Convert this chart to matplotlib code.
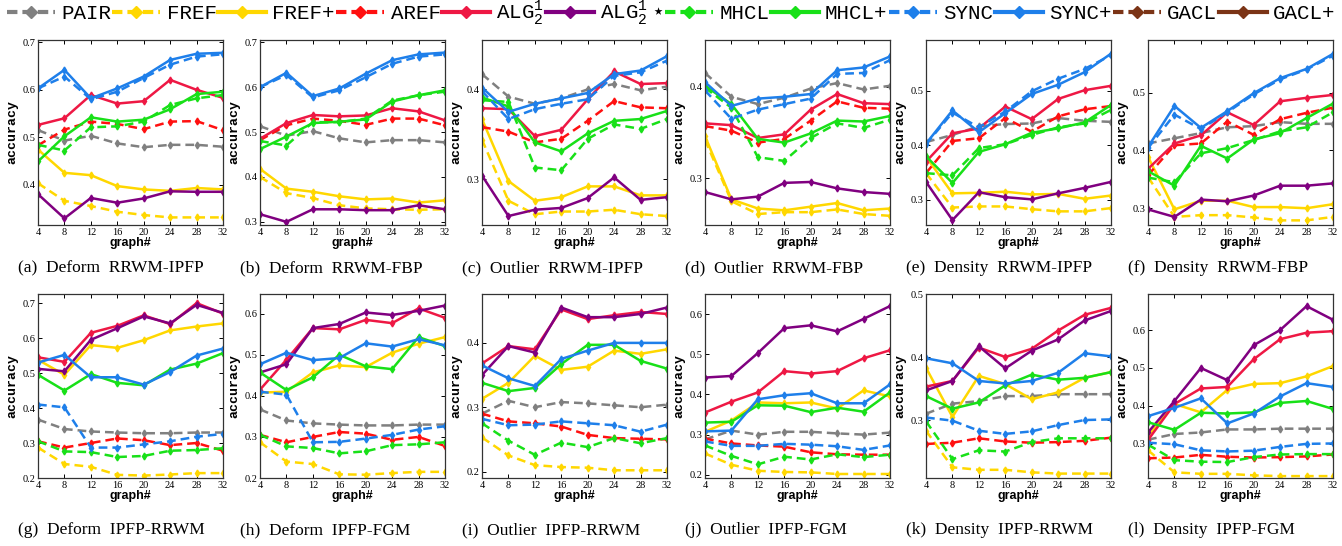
import matplotlib
matplotlib.use('Agg')
import matplotlib.pyplot as plt
from matplotlib.lines import Line2D
from matplotlib.ticker import FormatStrFormatter

x = [4, 8, 12, 16, 20, 24, 28, 32]

captions = ['(a)  Deform  RRWM-IPFP', '(b)  Deform  RRWM-FBP', '(c)  Outlier  RRWM-IPFP',
            '(d)  Outlier  RRWM-FBP', '(e)  Density  RRWM-IPFP', '(f)  Density  RRWM-FBP',
            '(g)  Deform  IPFP-RRWM', '(h)  Deform  IPFP-FGM', '(i)  Outlier  IPFP-RRWM',
            '(j)  Outlier  IPFP-FGM', '(k)  Density  IPFP-RRWM', '(l)  Density  IPFP-FGM']

ylims = [(0.315, 0.705), (0.293, 0.705), (0.249, 0.455), (0.249, 0.451), (0.254, 0.593), (0.271, 0.591),
         (0.2, 0.726), (0.2, 0.648), (0.19, 0.476), (0.192, 0.65), (0.208, 0.5), (0.21, 0.695)]
yticks = [[0.4, 0.5, 0.6, 0.7], [0.3, 0.4, 0.5, 0.6, 0.7], [0.3, 0.4], [0.3, 0.4], [0.3, 0.4, 0.5],
          [0.3, 0.4, 0.5], [0.2, 0.3, 0.4, 0.5, 0.6, 0.7], [0.2, 0.3, 0.4, 0.5, 0.6], [0.2, 0.3, 0.4],
          [0.2, 0.3, 0.4, 0.5, 0.6], [0.3, 0.4, 0.5], [0.3, 0.4, 0.5, 0.6]]

PAIR = [
    [0.515, 0.493, 0.503, 0.487, 0.479, 0.484, 0.484, 0.480],
    [0.513, 0.492, 0.502, 0.486, 0.477, 0.482, 0.482, 0.477],
    [0.417, 0.392, 0.384, 0.390, 0.400, 0.406, 0.399, 0.403],
    [0.415, 0.389, 0.381, 0.388, 0.398, 0.404, 0.397, 0.401],
    [0.406, 0.419, 0.435, 0.439, 0.440, 0.450, 0.445, 0.443],
    [0.412, 0.421, 0.430, 0.440, 0.442, 0.449, 0.446, 0.446],
    [0.367, 0.340, 0.333, 0.330, 0.328, 0.328, 0.330, 0.330],
    [0.367, 0.340, 0.333, 0.330, 0.328, 0.328, 0.330, 0.330],
    [0.290, 0.310, 0.300, 0.308, 0.306, 0.303, 0.300, 0.304],
    [0.288, 0.310, 0.300, 0.307, 0.307, 0.303, 0.300, 0.305],
    [0.310, 0.326, 0.330, 0.338, 0.338, 0.341, 0.341, 0.341],
    [0.311, 0.326, 0.330, 0.338, 0.338, 0.340, 0.340, 0.340],
]
FREF = [
    [0.403, 0.366, 0.355, 0.343, 0.336, 0.331, 0.331, 0.331],
    [0.400, 0.364, 0.353, 0.337, 0.330, 0.328, 0.327, 0.328],
    [0.344, 0.276, 0.261, 0.264, 0.264, 0.266, 0.261, 0.259],
    [0.342, 0.275, 0.261, 0.263, 0.263, 0.266, 0.261, 0.259],
    [0.349, 0.286, 0.288, 0.288, 0.283, 0.279, 0.279, 0.285],
    [0.354, 0.285, 0.288, 0.288, 0.284, 0.279, 0.279, 0.285],
    [0.287, 0.240, 0.232, 0.209, 0.207, 0.210, 0.214, 0.214],
    [0.287, 0.240, 0.234, 0.209, 0.208, 0.212, 0.215, 0.215],
    [0.253, 0.225, 0.210, 0.207, 0.206, 0.202, 0.202, 0.202],
    [0.253, 0.225, 0.210, 0.207, 0.206, 0.202, 0.202, 0.202],
    [0.283, 0.225, 0.221, 0.221, 0.217, 0.215, 0.215, 0.215],
    [0.283, 0.225, 0.221, 0.221, 0.217, 0.215, 0.215, 0.215],
]
FREF_plus = [
    [0.474, 0.425, 0.420, 0.397, 0.390, 0.387, 0.393, 0.390],
    [0.418, 0.374, 0.367, 0.357, 0.350, 0.352, 0.343, 0.348],
    [0.367, 0.298, 0.276, 0.280, 0.292, 0.292, 0.282, 0.282],
    [0.346, 0.277, 0.267, 0.265, 0.269, 0.273, 0.265, 0.267],
    [0.379, 0.312, 0.313, 0.315, 0.310, 0.311, 0.302, 0.308],
    [0.389, 0.298, 0.313, 0.313, 0.302, 0.302, 0.300, 0.307],
    [0.538, 0.495, 0.580, 0.572, 0.594, 0.622, 0.633, 0.642],
    [0.408, 0.410, 0.457, 0.474, 0.470, 0.505, 0.527, 0.543],
    [0.313, 0.338, 0.380, 0.358, 0.363, 0.388, 0.383, 0.390],
    [0.307, 0.335, 0.380, 0.378, 0.380, 0.365, 0.410, 0.395],
    [0.383, 0.305, 0.370, 0.357, 0.333, 0.344, 0.367, 0.376],
    [0.320, 0.405, 0.383, 0.442, 0.458, 0.460, 0.478, 0.505],
]
AREF = [
    [0.483, 0.516, 0.533, 0.528, 0.517, 0.533, 0.534, 0.515],
    [0.482, 0.515, 0.530, 0.525, 0.516, 0.530, 0.530, 0.515],
    [0.358, 0.353, 0.341, 0.345, 0.365, 0.387, 0.380, 0.379],
    [0.357, 0.352, 0.339, 0.343, 0.363, 0.384, 0.377, 0.376],
    [0.349, 0.408, 0.413, 0.450, 0.425, 0.453, 0.466, 0.472],
    [0.357, 0.409, 0.412, 0.450, 0.427, 0.454, 0.465, 0.474],
    [0.305, 0.287, 0.300, 0.313, 0.308, 0.294, 0.300, 0.278],
    [0.305, 0.287, 0.300, 0.312, 0.308, 0.293, 0.300, 0.278],
    [0.290, 0.278, 0.275, 0.270, 0.257, 0.252, 0.251, 0.250],
    [0.290, 0.278, 0.273, 0.270, 0.256, 0.251, 0.250, 0.250],
    [0.262, 0.264, 0.271, 0.266, 0.264, 0.265, 0.267, 0.272],
    [0.262, 0.264, 0.271, 0.266, 0.264, 0.265, 0.267, 0.272],
]
ALG = [
    [0.526, 0.540, 0.589, 0.571, 0.576, 0.621, 0.600, 0.583],
    [0.485, 0.520, 0.538, 0.535, 0.537, 0.553, 0.546, 0.526],
    [0.379, 0.378, 0.348, 0.355, 0.389, 0.420, 0.406, 0.407],
    [0.360, 0.358, 0.344, 0.348, 0.375, 0.392, 0.382, 0.381],
    [0.370, 0.422, 0.431, 0.471, 0.448, 0.485, 0.501, 0.509],
    [0.368, 0.412, 0.426, 0.466, 0.444, 0.485, 0.491, 0.496],
    [0.545, 0.532, 0.615, 0.635, 0.665, 0.640, 0.700, 0.670],
    [0.415, 0.488, 0.565, 0.562, 0.585, 0.577, 0.613, 0.590],
    [0.368, 0.395, 0.390, 0.452, 0.437, 0.443, 0.448, 0.445],
    [0.355, 0.382, 0.405, 0.458, 0.452, 0.458, 0.490, 0.510],
    [0.353, 0.362, 0.415, 0.400, 0.413, 0.442, 0.467, 0.478],
    [0.310, 0.405, 0.446, 0.450, 0.523, 0.576, 0.593, 0.597],
]
ALG_star = [
    [0.380, 0.329, 0.372, 0.362, 0.371, 0.386, 0.385, 0.385],
    [0.317, 0.300, 0.328, 0.328, 0.326, 0.326, 0.337, 0.328],
    [0.304, 0.259, 0.266, 0.268, 0.279, 0.302, 0.277, 0.280],
    [0.285, 0.277, 0.280, 0.295, 0.296, 0.289, 0.285, 0.283],
    [0.333, 0.263, 0.314, 0.305, 0.301, 0.312, 0.322, 0.333],
    [0.298, 0.285, 0.315, 0.312, 0.322, 0.339, 0.339, 0.343],
    [0.512, 0.505, 0.595, 0.628, 0.662, 0.642, 0.695, 0.672],
    [0.457, 0.477, 0.565, 0.575, 0.603, 0.597, 0.607, 0.620],
    [0.350, 0.395, 0.385, 0.455, 0.440, 0.440, 0.445, 0.455],
    [0.442, 0.446, 0.503, 0.565, 0.572, 0.557, 0.588, 0.620],
    [0.347, 0.362, 0.417, 0.382, 0.410, 0.428, 0.458, 0.473],
    [0.330, 0.413, 0.500, 0.468, 0.560, 0.600, 0.663, 0.627],
]
MHCL = [
    [0.484, 0.472, 0.521, 0.523, 0.533, 0.568, 0.582, 0.589],
    [0.480, 0.470, 0.522, 0.522, 0.530, 0.570, 0.582, 0.590],
    [0.388, 0.386, 0.313, 0.310, 0.345, 0.361, 0.356, 0.367],
    [0.399, 0.377, 0.323, 0.319, 0.344, 0.360, 0.355, 0.364],
    [0.349, 0.345, 0.395, 0.402, 0.419, 0.433, 0.440, 0.465],
    [0.353, 0.345, 0.395, 0.404, 0.418, 0.433, 0.440, 0.466],
    [0.305, 0.276, 0.274, 0.260, 0.263, 0.278, 0.280, 0.285],
    [0.305, 0.277, 0.273, 0.260, 0.265, 0.280, 0.282, 0.287],
    [0.275, 0.248, 0.226, 0.245, 0.238, 0.252, 0.244, 0.252],
    [0.273, 0.247, 0.226, 0.245, 0.238, 0.251, 0.244, 0.250],
    [0.298, 0.238, 0.252, 0.250, 0.265, 0.271, 0.271, 0.271],
    [0.298, 0.257, 0.253, 0.252, 0.265, 0.272, 0.273, 0.273],
]
MHCL_plus = [
    [0.449, 0.502, 0.542, 0.533, 0.537, 0.559, 0.591, 0.596],
    [0.462, 0.490, 0.520, 0.523, 0.528, 0.568, 0.582, 0.593],
    [0.391, 0.381, 0.341, 0.331, 0.351, 0.365, 0.367, 0.376],
    [0.401, 0.381, 0.343, 0.339, 0.349, 0.363, 0.362, 0.368],
    [0.380, 0.331, 0.388, 0.402, 0.423, 0.431, 0.442, 0.474],
    [0.364, 0.339, 0.408, 0.386, 0.419, 0.430, 0.456, 0.481],
    [0.495, 0.450, 0.497, 0.472, 0.465, 0.510, 0.527, 0.557],
    [0.457, 0.414, 0.445, 0.500, 0.472, 0.465, 0.543, 0.521],
    [0.338, 0.325, 0.330, 0.367, 0.397, 0.397, 0.372, 0.360],
    [0.330, 0.332, 0.373, 0.372, 0.356, 0.367, 0.357, 0.405],
    [0.338, 0.318, 0.328, 0.355, 0.372, 0.364, 0.367, 0.376],
    [0.357, 0.337, 0.382, 0.380, 0.383, 0.408, 0.413, 0.392],
]
SYNC = [
    [0.603, 0.628, 0.580, 0.596, 0.625, 0.653, 0.670, 0.675],
    [0.600, 0.627, 0.577, 0.593, 0.622, 0.652, 0.668, 0.673],
    [0.398, 0.367, 0.378, 0.384, 0.389, 0.415, 0.419, 0.432],
    [0.396, 0.365, 0.375, 0.381, 0.387, 0.414, 0.415, 0.429],
    [0.402, 0.460, 0.433, 0.462, 0.499, 0.522, 0.540, 0.565],
    [0.404, 0.462, 0.437, 0.466, 0.497, 0.523, 0.540, 0.564],
    [0.410, 0.402, 0.287, 0.287, 0.296, 0.305, 0.318, 0.326],
    [0.410, 0.403, 0.287, 0.288, 0.296, 0.305, 0.318, 0.326],
    [0.282, 0.272, 0.273, 0.278, 0.275, 0.272, 0.262, 0.273],
    [0.283, 0.272, 0.272, 0.277, 0.275, 0.271, 0.262, 0.273],
    [0.304, 0.299, 0.283, 0.278, 0.282, 0.292, 0.300, 0.301],
    [0.303, 0.299, 0.283, 0.280, 0.282, 0.292, 0.300, 0.301],
]
SYNC_plus = [
    [0.603, 0.642, 0.582, 0.603, 0.628, 0.663, 0.676, 0.678],
    [0.600, 0.632, 0.580, 0.597, 0.630, 0.660, 0.673, 0.677],
    [0.402, 0.375, 0.384, 0.390, 0.396, 0.417, 0.421, 0.437],
    [0.405, 0.379, 0.387, 0.389, 0.392, 0.418, 0.421, 0.433],
    [0.403, 0.464, 0.424, 0.459, 0.494, 0.511, 0.534, 0.568],
    [0.406, 0.477, 0.439, 0.468, 0.499, 0.525, 0.541, 0.567],
    [0.530, 0.552, 0.488, 0.488, 0.467, 0.503, 0.550, 0.570],
    [0.477, 0.505, 0.487, 0.492, 0.528, 0.520, 0.538, 0.523],
    [0.365, 0.345, 0.333, 0.375, 0.388, 0.400, 0.400, 0.400],
    [0.308, 0.310, 0.388, 0.398, 0.403, 0.378, 0.378, 0.425],
    [0.398, 0.390, 0.362, 0.358, 0.362, 0.375, 0.406, 0.401],
    [0.373, 0.395, 0.420, 0.354, 0.380, 0.425, 0.460, 0.450],
]

GRAY = '#808080'
YEL = '#FFD700'
RED_D = '#FF1010'
RED = '#EE1844'
PUR = '#800080'
GRN = '#18E018'
BLU = '#1E7FEA'
BRN = '#7B3416'

series = [
    ('PAIR', PAIR, GRAY, '--'),
    ('FREF', FREF, YEL, '--'),
    ('FREF+', FREF_plus, YEL, '-'),
    ('AREF', AREF, RED_D, '--'),
    (r'ALG$\mathregular{_2^1}$', ALG, RED, '-'),
    (r'ALG$\mathregular{_2^1}\star$', ALG_star, PUR, '-'),
    ('MHCL', MHCL, GRN, '--'),
    ('MHCL+', MHCL_plus, GRN, '-'),
    ('SYNC', SYNC, BLU, '--'),
    ('SYNC+', SYNC_plus, BLU, '-'),
]

W, H = 1342, 546
fig = plt.figure(figsize=(W / 100, H / 100), dpi=100)
lefts = [38, 260, 482, 705, 926, 1148]
rows = [(40, 225), (294, 478)]
cap_y = [268, 530]
aw = 185

for k in range(12):
    r, c = divmod(k, 6)
    top, bot = rows[r]
    ax = fig.add_axes([lefts[c] / W, 1 - bot / H, aw / W, (bot - top) / H])
    for name, data, col, ls in series:
        ax.plot(x, data[k], color=col, ls=ls, lw=1.8, marker='d', ms=3.5,
                dashes=(3.5, 2) if ls == '--' else (None, None))
    ax.set_xlim(4, 32)
    ax.set_ylim(*ylims[k])
    ax.set_xticks(x)
    ax.set_yticks(yticks[k])
    ax.yaxis.set_major_formatter(FormatStrFormatter('%.1f'))
    ax.tick_params(direction='in', top=True, right=True, length=3, width=0.7, pad=2)
    for lab in ax.get_xticklabels() + ax.get_yticklabels():
        lab.set_fontfamily('Liberation Serif')
        lab.set_fontsize(7.5)
    for sp in ax.spines.values():
        sp.set_linewidth(0.9)
        sp.set_color('#333333')
    ax.set_xlabel('graph#', fontfamily='Liberation Sans', fontweight='bold', fontsize=9, labelpad=0)
    ax.set_ylabel('accuracy', fontfamily='Liberation Mono', fontweight='bold', fontsize=9.5, labelpad=3)
    fig.text((lefts[c] - 20) / W, 1 - cap_y[r] / H, captions[k], fontfamily='Liberation Serif',
             fontsize=12.5, va='center', ha='left')

handles = []
labels = []
for name, data, col, ls in series:
    handles.append(Line2D([], [], color=col, lw=3, ls=ls, marker='D', ms=6,
                          dashes=(2.5, 1.2) if ls == '--' else (None, None)))
    labels.append(name)
handles.append(Line2D([], [], color=BRN, lw=3, ls='--', marker='D', ms=6, dashes=(2.5, 1.2)))
labels.append('GACL')
handles.append(Line2D([], [], color=BRN, lw=3, ls='-', marker='D', ms=6))
labels.append('GACL+')

fig.legend(handles, labels, loc='center', ncol=12, bbox_to_anchor=(0.005, 0.955, 0.99, 0.04),
           mode='expand', frameon=False, prop={'family': 'Liberation Mono', 'size': 15},
           handlelength=2.3, handletextpad=0.3, columnspacing=0.5, borderaxespad=0, borderpad=0)

fig.savefig('out.png', dpi=100)
